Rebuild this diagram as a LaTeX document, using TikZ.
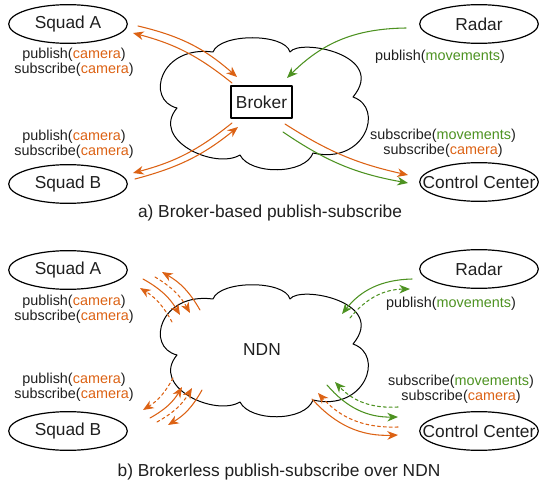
\documentclass[tikz,border=0pt]{standalone}
\usepackage{fontspec}
\setmainfont{Liberation Sans}
\usetikzlibrary{
	arrows.meta,
	shapes.geometric
}
\definecolor{POrange}{RGB}{220,98,20}
\definecolor{PGreen}{RGB}{77,146,33}
\colorlet{TGray}{black!88}
\newcommand{\tcam}{\textcolor{POrange}{camera}}
\newcommand{\tmov}{\textcolor{PGreen}{movements}}
% cloud outline, shifted by (#1,#2) pixels
\newcommand{\netcloud}[2]{%
	\draw[line width=0.75pt]
	({#1+213},{#2+52})
	.. controls ({#1+220},{#2+33}) and ({#1+285},{#2+33}) .. ({#1+290},{#2+52})
	.. controls ({#1+300},{#2+38}) and ({#1+388},{#2+55}) .. ({#1+353},{#2+97})
	.. controls ({#1+385},{#2+108}) and ({#1+365},{#2+165}) .. ({#1+313},{#2+153})
	.. controls ({#1+305},{#2+175}) and ({#1+250},{#2+175}) .. ({#1+240},{#2+155})
	.. controls ({#1+215},{#2+170}) and ({#1+150},{#2+140}) .. ({#1+177},{#2+108})
	.. controls ({#1+145},{#2+100}) and ({#1+160},{#2+45}) .. ({#1+213},{#2+52})
	-- cycle;
}
\newcommand{\party}[3]{%
	\node[party] (#1) at (#2) {\makebox[0pt]{#3}};
}
\tikzset{
	party/.style={ellipse, draw, line width=0.9pt, minimum width=89pt,
		minimum height=29pt, inner sep=0pt, text=TGray,
		font=\fontsize{13}{15}\selectfont},
	brokerbox/.style={draw, fill=white, line width=0.9pt, minimum width=45.75pt,
		minimum height=24pt, inner sep=0pt, text=TGray,
		font=\fontsize{13}{15}\selectfont},
	msg/.style={font=\fontsize{10.8}{11.3}\selectfont, align=center,
		text=TGray, inner sep=0pt},
	caption/.style={font=\fontsize{13}{15}\selectfont, text=TGray, inner sep=0pt},
	flow/.style={line width=0.8pt,
		-{Stealth[length=8pt,width=6.5pt,inset=2.5pt]}},
	flowO/.style={flow, POrange},
	flowG/.style={flow, PGreen},
	datadash/.style={dash pattern=on 2.2pt off 2.2pt}
}
\begin{document}
\begin{tikzpicture}[x=0.75pt, y=-0.75pt, line cap=round, line join=round]
	\useasboundingbox (0,0) rectangle (539,485);
	
	% -- a) Broker-based ------------------------------------------
	\netcloud{0}{0}
	\node[brokerbox] (broker) at (261.5,102) {Broker};
	
	\party{sqA}{68,24}{Squad A}
	\party{sqB}{68,184}{Squad B}
	\party{radar}{479,24}{Radar}
	\party{cc}{479,182}{Control Center}
	
	\node[msg] (msgA) at (74,62.5) {publish(\tcam)\\subscribe(\tcam)};
	\node[msg] (msgB) at (74,144) {publish(\tcam)\\subscribe(\tcam)};
	\node[msg] (msgR) at (440,57) {publish(\tmov)};
	\node[msg] (msgC) at (443,143) {subscribe(\tmov)\\subscribe(\tcam)};
	
	% Squad A <-> Broker
	\coordinate (aA1) at (138,26);  \coordinate (aA2) at (237,77);
	\coordinate (aA3) at (232,83);  \coordinate (aA4) at (133,33);
	\draw[flowO] (aA1) to[bend left=14] (aA2);
	\draw[flowO] (aA3) to[bend right=12] (aA4);
	
	% Squad B <-> Broker
	\coordinate (aB1) at (232,123); \coordinate (aB2) at (133,173);
	\coordinate (aB3) at (135,179); \coordinate (aB4) at (238,127);
	\draw[flowO] (aB1) to[bend left=12] (aB2);
	\draw[flowO] (aB3) to[bend right=12] (aB4);
	
	% Radar -> Broker -> Control Center
	\coordinate (aR1) at (406,28);  \coordinate (aR2) at (287,78);
	\coordinate (aC1) at (285,124); \coordinate (aC2) at (408,175);
	\coordinate (aC3) at (283,132); \coordinate (aC4) at (408,183);
	\draw[flowG] (aR1) to[bend right=22] (aR2);
	\draw[flowO] (aC1) to[bend right=10] (aC2);
	\draw[flowG] (aC3) to[bend right=12] (aC4);
	
	\node[caption] (capA) at (270,213) {a) Broker-based publish-subscribe};
	
	% -- b) Brokerless over NDN -----------------------------------
	\netcloud{0}{247}
	\node[caption] (ndn) at (262,350) {NDN};
	
	\party{sqA2}{68,270}{Squad A}
	\party{sqB2}{68,431}{Squad B}
	\party{radar2}{479,269}{Radar}
	\party{cc2}{479,431}{Control Center}
	
	\node[msg] (msgA2) at (74,309.5) {publish(\tcam)\\subscribe(\tcam)};
	\node[msg] (msgB2) at (74,387) {publish(\tcam)\\subscribe(\tcam)};
	\node[msg] (msgR2) at (451,304) {publish(\tmov)};
	\node[msg] (msgC2) at (461,389) {subscribe(\tmov)\\subscribe(\tcam)};
	
	% Squad A: interests (solid) and data (dashed)
	\coordinate (nA1) at (200,310); \coordinate (nA2) at (162,272);
	\coordinate (nA3) at (155,277); \coordinate (nA4) at (190,313);
	\coordinate (nA5) at (143,279); \coordinate (nA6) at (180,315);
	\coordinate (nA7) at (172,322); \coordinate (nA8) at (140,288);
	\draw[flowO] (nA1) to[bend right=15] (nA2);
	\draw[flowO, datadash] (nA3) to[bend left=15] (nA4);
	\draw[flowO] (nA5) to[bend left=15] (nA6);
	\draw[flowO, datadash] (nA7) to[bend right=15] (nA8);
	
	% Squad B
	\coordinate (nB1) at (173,378); \coordinate (nB2) at (143,410);
	\coordinate (nB3) at (150,418); \coordinate (nB4) at (182,387);
	\coordinate (nB5) at (157,422); \coordinate (nB6) at (192,388);
	\coordinate (nB7) at (202,390); \coordinate (nB8) at (168,425);
	\draw[flowO, datadash] (nB1) to[bend left=15] (nB2);
	\draw[flowO] (nB3) to[bend right=15] (nB4);
	\draw[flowO, datadash] (nB5) to[bend right=15] (nB6);
	\draw[flowO] (nB7) to[bend left=15] (nB8);
	
	% Radar
	\coordinate (nR1) at (412,279); \coordinate (nR2) at (342,314);
	\coordinate (nR3) at (350,318); \coordinate (nR4) at (410,289);
	\draw[flowG] (nR1) to[bend right=25] (nR2);
	\draw[flowG, datadash] (nR3) to[bend left=25] (nR4);
	
	% Control Center
	\coordinate (nC1) at (398,407); \coordinate (nC2) at (335,382);
	\coordinate (nC3) at (327,385); \coordinate (nC4) at (398,417);
	\coordinate (nC5) at (398,427); \coordinate (nC6) at (318,393);
	\coordinate (nC7) at (312,399); \coordinate (nC8) at (398,435);
	\draw[flowG, datadash] (nC1) to[bend left=25] (nC2);
	\draw[flowG] (nC3) to[bend right=25] (nC4);
	\draw[flowO, datadash] (nC5) to[bend left=25] (nC6);
	\draw[flowO] (nC7) to[bend right=25] (nC8);
	
	\node[caption] (capB) at (279,472) {b) Brokerless publish-subscribe over NDN};
	
\end{tikzpicture}
\end{document}
